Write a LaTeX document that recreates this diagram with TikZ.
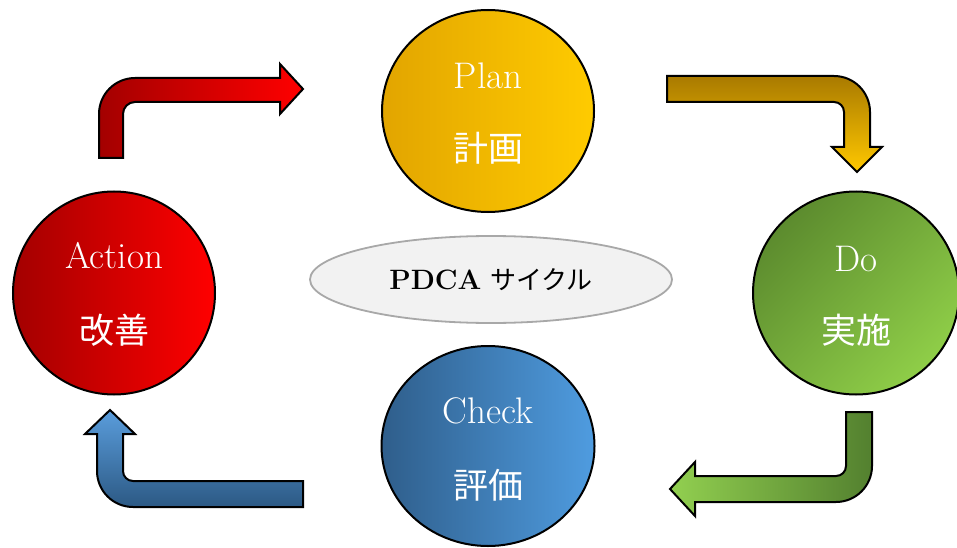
\documentclass[tikz,border=0pt]{standalone}
\usepackage{fontspec}
\newfontfamily\cjk{Noto Sans CJK JP}
\usetikzlibrary{shapes.geometric}
\definecolor{planL}{HTML}{E2A500}
\definecolor{planR}{HTML}{FFCB00}
\definecolor{actL}{HTML}{A30000}
\definecolor{actR}{HTML}{FF0000}
\definecolor{doDark}{HTML}{5C8B2E}
\definecolor{doLight}{HTML}{8FCE48}
\definecolor{chkL}{HTML}{2F5E8B}
\definecolor{chkR}{HTML}{4F9CE0}
\definecolor{goldTop}{HTML}{A97A00}
\definecolor{goldBot}{HTML}{FFC800}
\definecolor{grnL}{HTML}{92D050}
\definecolor{grnR}{HTML}{53802F}
\definecolor{bluTop}{HTML}{5A9DDC}
\definecolor{bluBot}{HTML}{2C5984}
\definecolor{ellFill}{HTML}{F2F2F2}
\definecolor{ellLine}{HTML}{A8A8A8}
\begin{document}
\begin{tikzpicture}[x=1pt,y=1pt,
  phase/.style={ellipse, draw=black, line width=2pt, inner sep=0pt},
  lat/.style={text=white, font=\fontsize{37}{40}\selectfont, anchor=base, inner sep=0pt},
  jp/.style={text=white, font=\cjk\fontsize{35}{38}\selectfont, inner sep=0pt},
  bendarrow/.style={draw=black, line width=2pt, line join=miter}]
\useasboundingbox (0,0) rectangle (957,547);

% arrows
\draw[bendarrow, left color=actL, right color=actR]
  (99,389) -- (99,433) arc[start angle=180, end angle=90, radius=36]
  -- (280,469) -- (280,483) -- (303,458) -- (280,433) -- (280,445)
  -- (135,445) arc[start angle=90, end angle=180, radius=12]
  -- (123,389) -- cycle;

\draw[bendarrow, top color=goldTop, bottom color=goldBot]
  (667,471) -- (834,471) arc[start angle=90, end angle=0, radius=36]
  -- (870,400) -- (882,400) -- (857,375) -- (832,400) -- (844,400)
  -- (844,435) arc[start angle=0, end angle=90, radius=10]
  -- (667,445) -- cycle;

\draw[bendarrow, left color=grnL, right color=grnR]
  (846,135) -- (872,135) -- (872,81) arc[start angle=0, end angle=-90, radius=36]
  -- (695,45) -- (695,31) -- (670,58) -- (695,85) -- (695,71)
  -- (836,71) arc[start angle=-90, end angle=0, radius=10]
  -- cycle;

\draw[bendarrow, top color=bluTop, bottom color=bluBot]
  (303,66) -- (133,66) arc[start angle=270, end angle=180, radius=10]
  -- (123,113) -- (135,113) -- (110,137) -- (85,113) -- (97,113)
  -- (97,76) arc[start angle=180, end angle=270, radius=36]
  -- (303,40) -- cycle;

% phases
\node[phase, minimum width=212pt, minimum height=202pt, left color=planL, right color=planR] (plan) at (488,436) {};
\node[phase, minimum width=206pt, minimum height=203pt, top color=doDark, bottom color=doLight, shading angle=45] (do) at (856,254) {};
\node[phase, minimum width=213pt, minimum height=200pt, left color=chkL, right color=chkR] (check) at (488,101) {};
\node[phase, minimum width=202pt, minimum height=203pt, left color=actL, right color=actR] (act) at (114,254) {};

\node[lat] (planA) at ([yshift=22pt]plan.center) {Plan};
\node[jp] (planB) at ([yshift=-37pt]plan.center) {計画};
\node[lat] (doA) at ([yshift=22pt]do.center) {Do};
\node[jp] (doB) at ([yshift=-37pt]do.center) {実施};
\node[lat] (checkA) at ([yshift=23pt]check.center) {Check};
\node[jp] (checkB) at ([yshift=-39pt]check.center) {評価};
\node[lat] (actA) at ([yshift=25pt]act.center) {Action};
\node[jp] (actB) at ([yshift=-37pt]act.center) {改善};

% title
\node[ellipse, draw=ellLine, fill=ellFill, line width=1.8pt, minimum width=362pt, minimum height=87pt, inner sep=0pt] (title) at (491,267.5)
  {\fontsize{28}{32}\selectfont\textbf{PDCA} {\cjk\fontsize{26}{30}\selectfont サイクル}};
\end{tikzpicture}
\end{document}
